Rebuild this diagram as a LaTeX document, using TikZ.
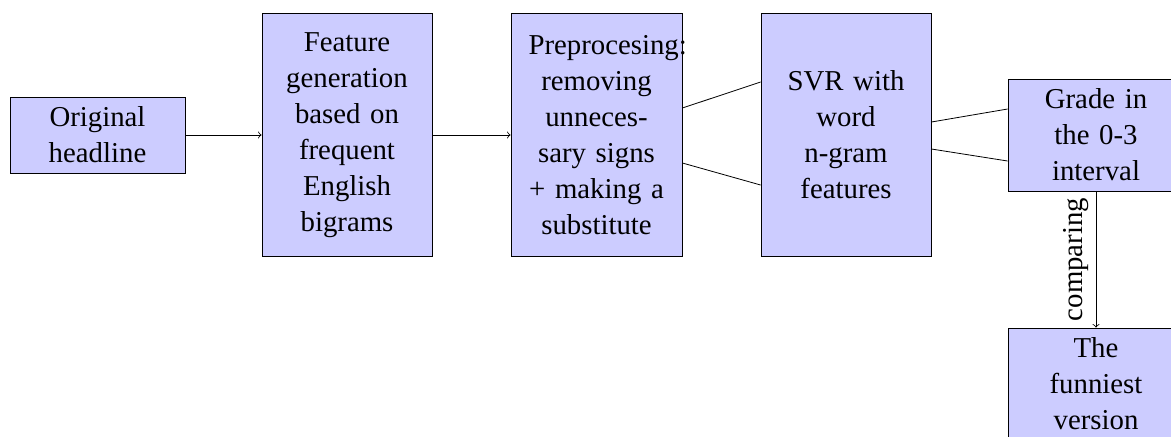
\documentclass[tikz,border=0pt]{standalone}
\usepackage{fontspec}
\setmainfont{Liberation Serif}
\usetikzlibrary{calc}
\begin{document}
\begin{tikzpicture}[x=0.5pt,y=-0.5pt,
  txt/.style={font=\fontsize{14.4}{18}\selectfont},
  box/.style={txt, draw=black, fill=blue!20, text width=68pt, align=center, inner xsep=0pt, inner ysep=0pt},
  conn/.style={draw=black},
  arr/.style={conn, ->}]
\useasboundingbox (0,0) rectangle (1171,436);
\clip (0,0) rectangle (1171,436);
\node[box, minimum width=87.5pt, minimum height=38pt] (orig) at (97.5,135) {Original\\headline};
\node[box, minimum width=85pt, minimum height=121.5pt] (feat) at (347,135) {Feature\\generation\\based on\\frequent\\English\\bigrams};
\node[box, minimum width=85.5pt, minimum height=121.5pt] (pre) at (596.5,135) {Preprocesing:\\removing\\unneces-\\sary signs\\+ making a\\substitute};
\node[box, minimum width=85pt, minimum height=121.5pt] (svr) at (846,135) {SVR with\\word\\n-gram\\features};
\node[box, minimum width=88pt, minimum height=56pt] (grade) at (1096,135) {Grade in\\the 0-3\\interval};
\node[box, minimum width=88pt, minimum height=56pt] (funny) at (1096,384) {The\\funniest\\version};
\draw[arr] (orig) -- (feat);
\draw[arr] (feat) -- (pre);
\draw[conn] ($(pre.east)+(0,-27)$) -- ($(svr.west)+(0,-53)$);
\draw[conn] ($(pre.east)+(0,28)$) -- ($(svr.west)+(0,50)$);
\draw[conn] ($(svr.east)+(0,-13)$) -- ($(grade.west)+(0,-26)$);
\draw[conn] ($(svr.east)+(0,14)$) -- ($(grade.west)+(0,26)$);
\draw[arr] (grade) -- node[txt, rotate=90, anchor=south] {comparing} (funny);
\end{tikzpicture}
\end{document}
